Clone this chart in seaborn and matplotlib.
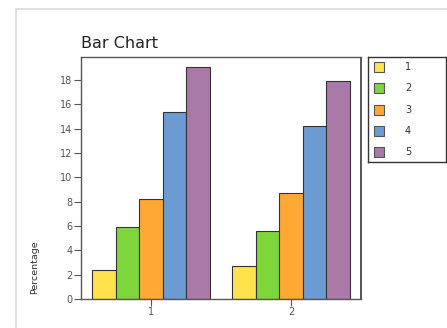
import pandas as pd
import matplotlib
matplotlib.use('Agg')
import matplotlib.pyplot as plt
import seaborn as sns
from matplotlib.patches import Rectangle

# data
groups = ['1', '2']
series = ['1', '2', '3', '4', '5']
values_g1 = [2.4, 5.9, 8.2, 15.4, 19.1]
values_g2 = [2.7, 5.6, 8.7, 14.2, 17.9]
colors = ['#FFE24C', '#7ED63A', '#FFA834', '#6B9BD2', '#A97AA8']

rows = []
for s, v in zip(series, values_g1):
    rows.append({'group': groups[0], 'series': s, 'value': v})
for s, v in zip(series, values_g2):
    rows.append({'group': groups[1], 'series': s, 'value': v})
df = pd.DataFrame(rows)

sns.set_style('white')
plt.rcParams['font.family'] = ['DejaVu Sans']

fig = plt.figure(figsize=(4.47, 3.28), dpi=100)
W, H = 447, 328
ax = fig.add_axes([81 / W, 1 - 299 / H, 280 / W, 242 / H])

# light gray outer frame
fig.patches.append(Rectangle((16 / W, -0.1), 1.0, 1 - 9 / H + 0.1,
                             transform=fig.transFigure, fill=False,
                             edgecolor='#d9d9d9', linewidth=1.2))

sns.barplot(data=df, x='group', y='value', hue='series', palette=colors,
            width=0.84, edgecolor='#333333', linewidth=0.8, ax=ax,
            legend=False, saturation=1)

ax.set_xlim(-0.5, 1.5)
ax.set_ylim(0, 19.9)
ax.set_yticks(range(0, 19, 2))
ax.set_xlabel('')
ax.set_ylabel('Percentage', fontsize=6.8, color='#333333')
ax.yaxis.set_label_coords(-0.15, 0.13)
ax.tick_params(axis='both', labelsize=7, colors='#555555', length=5,
               width=0.8, direction='out', left=True, bottom=True, pad=1)
for sp in ax.spines.values():
    sp.set_visible(True)
    sp.set_color('#555555')
    sp.set_linewidth(1.0)
ax.spines['right'].set_linewidth(1.4)
ax.spines['right'].set_capstyle('butt')

fig.text(81 / W, 1 - 43 / H, 'Bar Chart', fontsize=11.5, color='#222222',
         va='center', ha='left')

# legend box
lax = fig.add_axes([368 / W, 1 - 162 / H, 78 / W, 105 / H])
lax.set_xlim(0, 78)
lax.set_ylim(105, 0)
lax.set_xticks([])
lax.set_yticks([])
for sp in lax.spines.values():
    sp.set_color('#333333')
    sp.set_linewidth(1.0)
for i, (s, c) in enumerate(zip(series, colors)):
    y = 10 + i * 21.3
    lax.add_patch(Rectangle((6, y - 5), 10, 10, facecolor=c,
                            edgecolor='#555555', linewidth=0.8))
    lax.text(37, y, s, fontsize=7, va='center', ha='left', color='#333333')

fig.savefig('out.png', dpi=100)
